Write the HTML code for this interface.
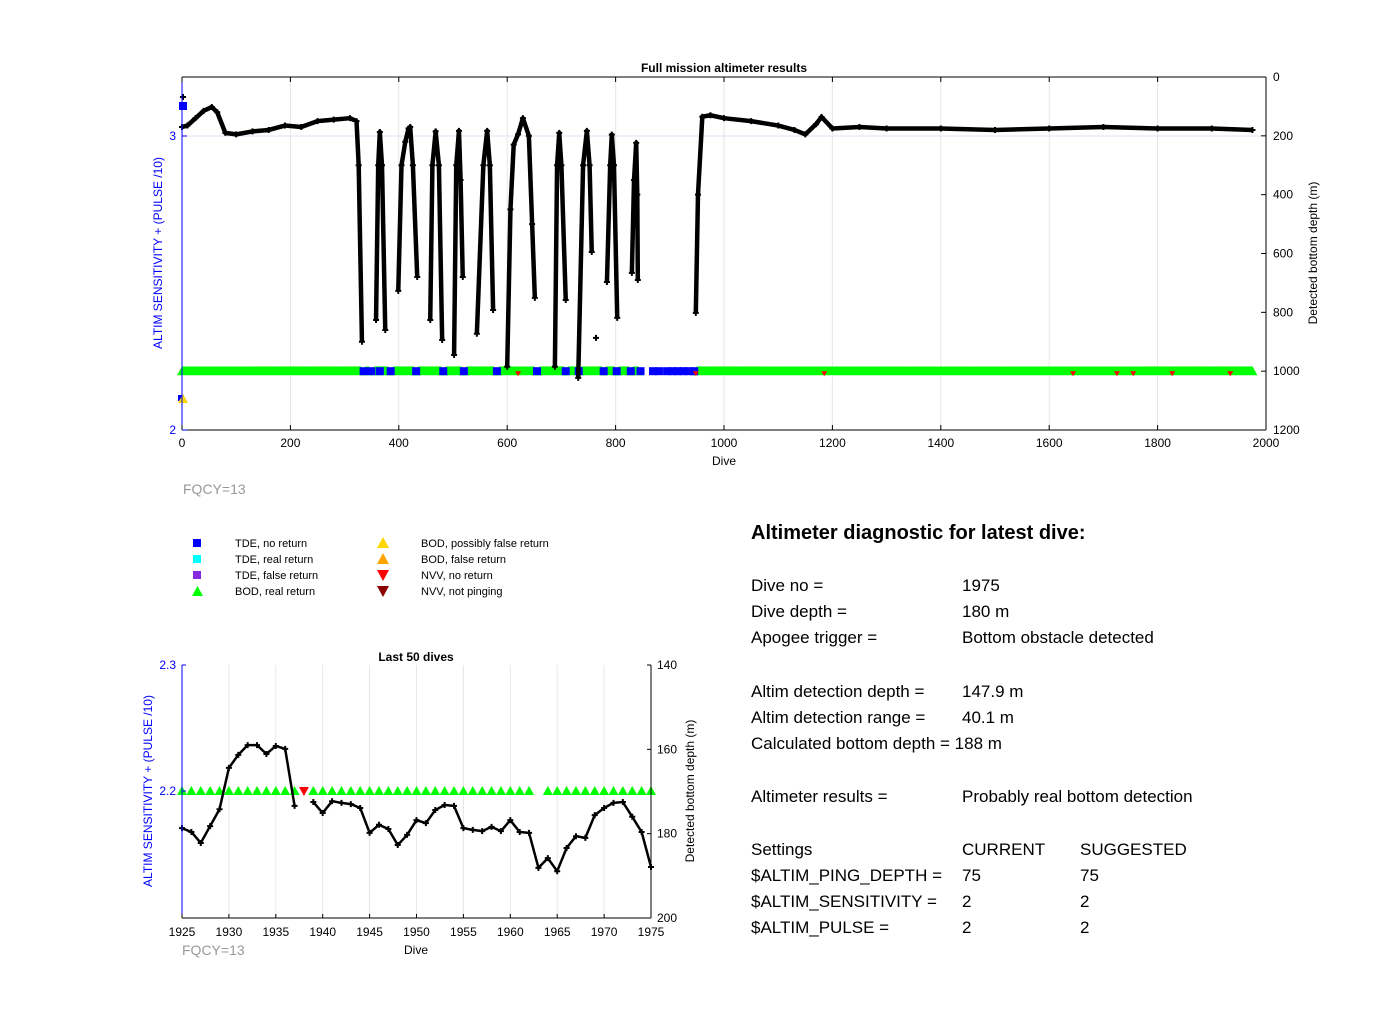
<!DOCTYPE html>
<html><head><meta charset="utf-8"><style>
body{margin:0;background:#fff;}
svg{display:block;font-family:"Liberation Sans",Arial,sans-serif;}
</style></head><body>
<svg id="s" width="1400" height="1032" xmlns="http://www.w3.org/2000/svg">
<rect width="1400" height="1032" fill="#fff"/>
<g id="top"></g>
<g id="bot"></g>
<text x="183" y="494" font-size="14" fill="#999">FQCY=13</text>
<g font-size="11" fill="#000">
 <rect x="193" y="539" width="8" height="8" fill="#0000ff"/>
 <text x="235" y="547">TDE, no return</text>
 <rect x="193" y="555" width="8" height="8" fill="#00ffff"/>
 <text x="235" y="563">TDE, real return</text>
 <rect x="193" y="571" width="8" height="8" fill="#8a2be2"/>
 <text x="235" y="579">TDE, false return</text>
 <polygon points="192,596 203,596 197.5,586" fill="#00ff00"/>
 <text x="235" y="595">BOD, real return</text>
 <polygon points="377,548 389,548 383,537" fill="#ffd700"/>
 <text x="421" y="547">BOD, possibly false return</text>
 <polygon points="377,564 389,564 383,553" fill="#ffa500"/>
 <text x="421" y="563">BOD, false return</text>
 <polygon points="377,570 389,570 383,581" fill="#ff0000"/>
 <text x="421" y="579">NVV, no return</text>
 <polygon points="377,586 389,586 383,597" fill="#8b0000"/>
 <text x="421" y="595">NVV, not pinging</text>
</g>
<g font-size="17" fill="#000">
 <text x="751" y="539" font-size="20" font-weight="bold">Altimeter diagnostic for latest dive:</text>
 <text x="751" y="591">Dive no =</text><text x="962" y="591">1975</text>
 <text x="751" y="617">Dive depth =</text><text x="962" y="617">180 m</text>
 <text x="751" y="643">Apogee trigger =</text><text x="962" y="643">Bottom obstacle detected</text>
 <text x="751" y="697">Altim detection depth =</text><text x="962" y="697">147.9 m</text>
 <text x="751" y="723">Altim detection range =</text><text x="962" y="723">40.1 m</text>
 <text x="751" y="749">Calculated bottom depth = 188 m</text>
 <text x="751" y="802">Altimeter results =</text><text x="962" y="802">Probably real bottom detection</text>
 <text x="751" y="855">Settings</text><text x="962" y="855">CURRENT</text><text x="1080" y="855">SUGGESTED</text>
 <text x="751" y="881">$ALTIM_PING_DEPTH =</text><text x="962" y="881">75</text><text x="1080" y="881">75</text>
 <text x="751" y="907">$ALTIM_SENSITIVITY =</text><text x="962" y="907">2</text><text x="1080" y="907">2</text>
 <text x="751" y="933">$ALTIM_PULSE =</text><text x="962" y="933">2</text><text x="1080" y="933">2</text>
</g>
</svg>
<script>
// ---- Top chart data ----
const topDives = [0,10,25,40,55,65,80,100,130,160,190,220,250,280,310,322,326,332,null,358,362,365,369,375,null,399,405,412,418,421,426,434,null,458,462,468,474,480,null,502,506,511,514,518,null,544,556,563,568,574,null,600,606,612,620,629,640,646,651,null,688,692,696,700,708,null,731,740,747,752,756,null,784,790,793,797,803,null,830,834,838,840,841,null,948,952,960,975,1000,1050,1100,1130,1150,1170,1180,1200,1250,1300,1400,1500,1600,1700,1800,1900,1975];
const topDepths = [170,165,140,115,102,120,190,195,185,180,165,170,150,145,140,150,300,900,null,826,300,187,300,860,null,727,300,220,175,170,300,680,null,826,300,185,300,894,null,945,300,183,350,680,null,873,300,183,300,792,null,985,450,230,195,140,200,500,751,null,985,300,190,300,758,null,1023,300,183,300,595,null,697,300,196,300,819,null,666,350,224,400,690,null,802,400,135,130,140,150,165,180,195,160,136,175,170,175,175,180,175,170,175,175,180];
const isoDives = [0,762];
const isoDepths = [68,887];
const greenStart = [0,338,355,390,436,487,525,585,660,712,737,782,806,832,950];
const greenEnd   = [330,345,380,428,478,515,575,650,705,728,775,798,825,842,1975];
const blueDives = [335,349,365,385,432,482,520,581,655,708,732,778,802,828,846,869,880,895,905,915,925,935,945];
const redDives = [620,948,1185,1644,1725,1755,1827,1934];
const markerValue = 2.2;
const topXTicks = [0,200,400,600,800,1000,1200,1400,1600,1800,2000];
const topDepthTicks = [0,200,400,600,800,1000,1200];
const topLeftTicks = [2,3];
// ---- Bottom chart data ----
const botDives = [1925,1926,1927,1928,1929,1930,1931,1932,1933,1934,1935,1936,1937,1938,1939,1940,1941,1942,1943,1944,1945,1946,1947,1948,1949,1950,1951,1952,1953,1954,1955,1956,1957,1958,1959,1960,1961,1962,1963,1964,1965,1966,1967,1968,1969,1970,1971,1972,1973,1974,1975];
const botDepths = [178.7,179.6,182.2,178.2,174.2,164.4,161.3,159.0,159.0,161.1,159.2,159.9,173.4,null,172.5,175.1,172.3,172.7,173.0,173.9,179.8,177.9,178.9,182.7,180.3,176.8,177.5,174.4,173.2,173.4,178.7,179.1,179.4,178.4,179.4,176.8,179.6,179.8,188.1,185.8,188.9,183.4,180.6,181.0,175.6,173.9,172.7,172.5,176.0,179.6,187.9];
const botMarkerType = ['g','g','g','g','g','g','g','g','g','g','g','g','g','r','g','g','g','g','g','g','g','g','g','g','g','g','g','g','g','g','g','g','g','g','g','g','g','g','n','g','g','g','g','g','g','g','g','g','g','g','g'];
const botXTicks = [1925,1930,1935,1940,1945,1950,1955,1960,1965,1970,1975];
const botDepthTicks = [140,160,180,200];
const botLeftTicks = [2.2,2.3];

const NS='http://www.w3.org/2000/svg';
function mk(parent,tag,attrs,name,txt){const e=document.createElementNS(NS,tag);for(const k in attrs)e.setAttribute(k,attrs[k]);


if(txt!==undefined)e.textContent=txt;parent.appendChild(e);return e;}
function plus(g,x,y,name){mk(g,'path',{d:`M${x-3},${y}H${x+3}M${x},${y-3}V${y+3}`,stroke:'#000','stroke-width':2},name);}

// ---- Top chart ----
(function(){
const g=document.getElementById('top');
const L=182,R=1266,T=77,B=430;
const x=d=>L+d*(R-L)/2000, yD=m=>T+m*(B-T)/1200, yL=v=>B-(v-2)*294;
topXTicks.forEach(t=>{ if(t>0&&t<2000) mk(g,'line',{x1:x(t),x2:x(t),y1:T,y2:B,stroke:'#e6e6e6'},'x-gridline');});
mk(g,'line',{x1:L,x2:R,y1:yL(3),y2:yL(3),stroke:'#e0e0f8'},'y-gridline');
for(let i=0;i<greenStart.length;i++){let pts='';
 for(let d=greenStart[i];d<=greenEnd[i];d++){const cx=x(d),cy=yL(markerValue);pts+=`M${cx-5},${cy+4}L${cx+5},${cy+4}L${cx},${cy-5}Z`;}
 mk(g,'path',{d:pts,fill:'#00ff00'},'bod-real-return-markers');}
blueDives.forEach(d=>mk(g,'rect',{x:x(d)-4,y:yL(markerValue)-4,width:8,height:8,fill:'#0000ff'},'tde-no-return-marker'));
let path='',pen=false;
for(let i=0;i<topDives.length;i++){ if(topDives[i]===null){pen=false;continue;}
 path+=(pen?'L':'M')+x(topDives[i])+','+yD(topDepths[i]);pen=true;}
mk(g,'path',{d:path,fill:'none',stroke:'#000','stroke-width':4.5,'stroke-linejoin':'round'},'bottom-depth-line');
topDives.forEach((d,i)=>{if(d!==null)plus(g,x(d),yD(topDepths[i]),'bottom-depth-point');});
isoDives.forEach((d,i)=>plus(g,x(d)+1,yD(isoDepths[i]),'bottom-depth-point'));
redDives.forEach(d=>{const cx=x(d),cy=yL(markerValue);mk(g,'polygon',{points:`${cx-3},${cy} ${cx+3},${cy} ${cx},${cy+5}`,fill:'#ff0000'},'nvv-no-return-marker');});
mk(g,'rect',{x:L-3,y:102,width:8,height:8,fill:'#0000ff'},'tde-no-return-marker');
mk(g,'rect',{x:L-4,y:395,width:6,height:6,fill:'#0000ff'},'tde-no-return-marker');
mk(g,'polygon',{points:`${L-4},403 ${L+6},403 ${L+1},394`,fill:'#ffd700'},'bod-possibly-false-marker');
mk(g,'line',{x1:L,x2:R,y1:T,y2:T,stroke:'#000'},'top-border');
mk(g,'line',{x1:L,x2:R,y1:B,y2:B,stroke:'#000'},'x-axis');
mk(g,'line',{x1:R,x2:R,y1:T,y2:B,stroke:'#000'},'right-y-axis');
mk(g,'line',{x1:L,x2:L,y1:T,y2:B,stroke:'#0000ff'},'left-y-axis');
topXTicks.forEach(t=>{mk(g,'line',{x1:x(t),x2:x(t),y1:B,y2:B-5,stroke:'#000'},'x-tick');mk(g,'line',{x1:x(t),x2:x(t),y1:T,y2:T+5,stroke:'#000'},'x-tick');
 mk(g,'text',{x:x(t),y:B+17,'font-size':12,'text-anchor':'middle'},'x-tick-label',String(t));});
topDepthTicks.forEach(t=>{mk(g,'line',{x1:R,x2:R-5,y1:yD(t),y2:yD(t),stroke:'#000'},'right-y-tick');
 mk(g,'text',{x:R+7,y:yD(t)+4,'font-size':12},'right-y-tick-label',String(t));});
topLeftTicks.forEach(t=>{mk(g,'line',{x1:L,x2:L+5,y1:yL(t),y2:yL(t),stroke:'#0000ff'},'left-y-tick');
 mk(g,'text',{x:L-6,y:yL(t)+4,'font-size':12,'text-anchor':'end',fill:'#0000ff'},'left-y-tick-label',String(t));});
mk(g,'text',{x:724,y:72,'font-size':12,'font-weight':'bold','text-anchor':'middle'},'chart-title','Full mission altimeter results');
mk(g,'text',{x:724,y:465,'font-size':12,'text-anchor':'middle'},'x-axis-title','Dive');
mk(g,'text',{x:0,y:0,'font-size':12,'text-anchor':'middle',transform:'translate(1317,253) rotate(-90)'},'right-y-axis-title','Detected bottom depth (m)');
mk(g,'text',{x:0,y:0,'font-size':12,'text-anchor':'middle',fill:'#0000ff',transform:'translate(162,253) rotate(-90)'},'left-y-axis-title','ALTIM SENSITIVITY + (PULSE /10)');
})();

// ---- Bottom chart ----
(function(){
const g=document.getElementById('bot');
const L=182,R=651,T=665,B=918;
const x=d=>L+(d-1925)*(R-L)/50, yD=m=>T+(m-140)*(B-T)/60, yL=v=>T+(2.3-v)*1260;
botXTicks.forEach(t=>{ if(t>1925&&t<1975) mk(g,'line',{x1:x(t),x2:x(t),y1:T,y2:B,stroke:'#e6e6e6'},'x-gridline');});
botDives.forEach((d,i)=>{const cx=x(d),cy=yL(markerValue);
 if(botMarkerType[i]==='g') mk(g,'polygon',{points:`${cx-5},${cy+4} ${cx+5},${cy+4} ${cx},${cy-5}`,fill:'#00ff00'},'bod-real-return-marker');
 else if(botMarkerType[i]==='r') mk(g,'polygon',{points:`${cx-5},${cy-4} ${cx+5},${cy-4} ${cx},${cy+5}`,fill:'#ff0000'},'nvv-no-return-marker');});
let path='',pen=false;
botDives.forEach((d,i)=>{ if(botDepths[i]===null){pen=false;return;} path+=(pen?'L':'M')+x(d)+','+yD(botDepths[i]);pen=true;});
mk(g,'path',{d:path,fill:'none',stroke:'#000','stroke-width':2.5,'stroke-linejoin':'round'},'bottom-depth-line');
botDives.forEach((d,i)=>{if(botDepths[i]!==null)plus(g,x(d),yD(botDepths[i]),'bottom-depth-point');});
mk(g,'line',{x1:L,x2:R,y1:B,y2:B,stroke:'#000'},'x-axis');
mk(g,'line',{x1:R,x2:R,y1:T,y2:B,stroke:'#000'},'right-y-axis');
mk(g,'line',{x1:L,x2:L,y1:T,y2:B,stroke:'#0000ff'},'left-y-axis');
botXTicks.forEach(t=>{mk(g,'line',{x1:x(t),x2:x(t),y1:B,y2:B-4,stroke:'#000'},'x-tick');
 mk(g,'text',{x:x(t),y:B+18,'font-size':12,'text-anchor':'middle'},'x-tick-label',String(t));});
botDepthTicks.forEach(t=>{mk(g,'line',{x1:R,x2:R-4,y1:yD(t),y2:yD(t),stroke:'#000'},'right-y-tick');
 mk(g,'text',{x:R+6,y:yD(t)+4,'font-size':12},'right-y-tick-label',String(t));});
botLeftTicks.forEach(t=>{mk(g,'line',{x1:L,x2:L+4,y1:yL(t),y2:yL(t),stroke:'#0000ff'},'left-y-tick');
 mk(g,'text',{x:L-6,y:yL(t)+4,'font-size':12,'text-anchor':'end',fill:'#0000ff'},'left-y-tick-label',t.toFixed(1));});
mk(g,'text',{x:416,y:661,'font-size':12,'font-weight':'bold','text-anchor':'middle'},'chart-title','Last 50 dives');
mk(g,'text',{x:416,y:954,'font-size':12,'text-anchor':'middle'},'x-axis-title','Dive');
mk(g,'text',{x:182,y:955,'font-size':14,fill:'#999'},'fqcy-label-bottom','FQCY=13');
mk(g,'text',{x:0,y:0,'font-size':12,'text-anchor':'middle',transform:'translate(694,791) rotate(-90)'},'right-y-axis-title','Detected bottom depth (m)');
mk(g,'text',{x:0,y:0,'font-size':12,'text-anchor':'middle',fill:'#0000ff',transform:'translate(152,791) rotate(-90)'},'left-y-axis-title','ALTIM SENSITIVITY + (PULSE /10)');
})();
</script>
</body></html>
